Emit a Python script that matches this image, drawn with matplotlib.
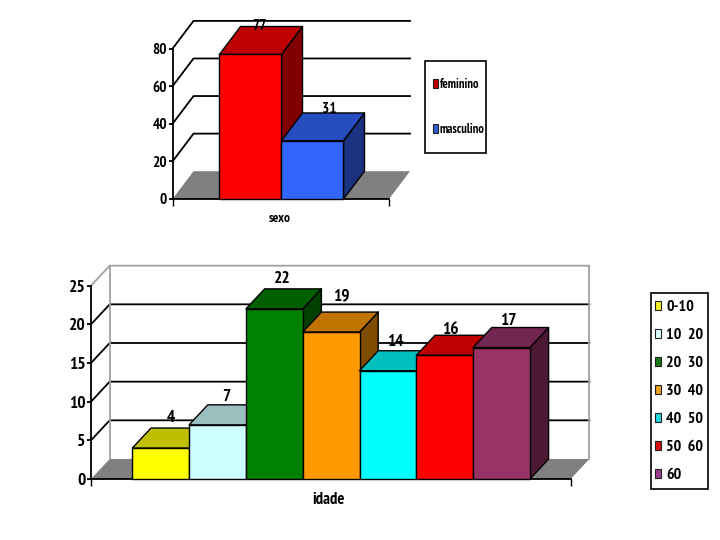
import matplotlib
matplotlib.use("Agg")
import matplotlib.pyplot as plt
from matplotlib.patches import Polygon, Patch, Rectangle

plt.rcParams['font.family'] = ['PT Sans Narrow', 'Roboto Condensed', 'Liberation Sans', 'DejaVu Sans']
plt.rcParams['font.weight'] = 'bold'

# data
sexo_labels = ['feminino', 'masculino']
sexo_values = [77, 31]
sexo_front = ['#ff0000', '#3366ff']
sexo_top = ['#bf0000', '#264cbf']
sexo_side = ['#800000', '#1a3380']
sexo_ticks = [0, 20, 40, 60, 80]
sexo_nudge = [(-2, 1), (6, 4)]

idade_labels = ['0-10', '10  20', '20  30', '30  40', '40  50', '50  60', '60']
idade_values = [4, 7, 22, 19, 14, 16, 17]
idade_front = ['#ffff00', '#ccffff', '#008000', '#ff9900', '#00ffff', '#ff0000', '#993366']
idade_top = ['#bfbf00', '#99bfbf', '#006000', '#bf7300', '#00bfbf', '#bf0000', '#732650']
idade_side = ['#808000', '#668080', '#004000', '#804c00', '#008080', '#800000', '#4d1a33']
idade_ticks = [0, 5, 10, 15, 20, 25]
idade_nudge = [(1, -2), (-1, -5), (-1, -3), (1, 3), (-2, -4), (-4, -7), (-2, -6)]

W, H = 720, 540
fig = plt.figure(figsize=(7.2, 5.4), dpi=100)


def make_axes(x0, x1, y_bottom, y_top, xlim, ylim):
    ax = fig.add_axes([x0 / W, 1 - y_bottom / H, (x1 - x0) / W, (y_bottom - y_top) / H])
    ax.set_xlim(*xlim)
    ax.set_ylim(*ylim)
    ax.patch.set_visible(False)
    for s in ('top', 'right'):
        ax.spines[s].set_visible(False)
    for s in ('left', 'bottom'):
        ax.spines[s].set_linewidth(1.3)
    return ax


def bar3d(ax, x, v, w, dx, dy, front, top, side, lw, z):
    l, r = x - w / 2, x + w / 2
    kw = dict(edgecolor='black', linewidth=lw, joinstyle='round', clip_on=False, zorder=z)
    ax.add_patch(Polygon([(r, 0), (r + dx, dy), (r + dx, v + dy), (r, v)], facecolor=side, **kw))
    ax.add_patch(Polygon([(l, v), (r, v), (r + dx, v + dy), (l + dx, v + dy)], facecolor=top, **kw))
    ax.add_patch(Polygon([(l, 0), (r, 0), (r, v), (l, v)], facecolor=front, **kw))


def chart(ax, values, ticks, front, top, side, dx, dy, wall_color, top_color, fs, lab_off, nudge):
    x0, x1 = ax.get_xlim()
    ax.add_patch(Polygon([(x0, 0), (x1, 0), (x1 + dx, dy), (x0 + dx, dy)],
                         facecolor='#808080', edgecolor='none', clip_on=False, zorder=1))
    for t in ticks[1:]:
        c = top_color if t == ticks[-1] else 'black'
        ax.plot([x0, x0 + dx, x1 + dx], [t, t + dy, t + dy], color=c, lw=1.3, clip_on=False, zorder=2)
    if wall_color:
        ax.plot([x0 + dx, x0 + dx], [dy, ticks[-1] + dy], color=wall_color, lw=1.3, clip_on=False, zorder=2)
        ax.plot([x1 + dx, x1 + dx], [dy, ticks[-1] + dy], color=wall_color, lw=1.3, clip_on=False, zorder=2)
    for i, v in enumerate(values):
        bar3d(ax, i, v, 1, dx, dy, front[i], top[i], side[i], 1.0, 3 + i)
        nx, ny = nudge[i]
        ax.annotate(str(v), (i + dx / 2, v + dy), xytext=(nx * 0.72, lab_off + ny * 0.72),
                    textcoords='offset points', ha='center', va='center', fontsize=fs,
                    color='black', annotation_clip=False, zorder=20)
    ax.set_yticks(ticks)
    ax.set_xticks([x0, x1])
    ax.set_xticklabels([])
    ax.tick_params(axis='y', length=3, width=1.3, pad=1.0, labelsize=fs)
    ax.tick_params(axis='x', length=5, width=1.0)
    ax.spines['left'].set_bounds(0, ticks[-1])


# upper chart
ax1 = make_axes(172.5, 389, 199, 48.7, (-1.258, 2.234), (0, 80))
chart(ax1, sexo_values, sexo_ticks, sexo_front, sexo_top, sexo_side, 0.339, 14.8, None, 'black', 11, 0, sexo_nudge)
fig.text(280 / W, 1 - 218 / H, 'sexo', ha='center', va='center', fontsize=9.5)

# lower chart
ax2 = make_axes(91, 570.7, 479, 285.7, (-1.227, 7.218), (0, 25))
chart(ax2, idade_values, idade_ticks, idade_front, idade_top, idade_side, 0.329, 2.59, '#a0a0a0', '#a0a0a0', 12.5, 9, idade_nudge)
fig.text(329 / W, 1 - 500 / H, 'idade', ha='center', va='center', fontsize=12)


def legend(labels, colors, box, swatch_x, fs, spacing_px, hl, hh, tp):
    x0, y0, x1, y1 = box
    fig.add_artist(Rectangle((x0 / W, 1 - y1 / H), (x1 - x0) / W, (y1 - y0) / H,
                             transform=fig.transFigure, facecolor='white',
                             edgecolor='black', linewidth=1.2))
    handles = [Patch(facecolor=c, edgecolor='#202020', linewidth=0.8) for c in colors]
    leg = fig.legend(handles, labels, loc='center left',
                     bbox_to_anchor=(swatch_x / W, 1 - (y0 + y1) / 2 / H),
                     fontsize=fs, frameon=False, borderpad=0, borderaxespad=0,
                     handlelength=hl, handleheight=hh, handletextpad=tp,
                     labelspacing=(spacing_px * 0.72 - fs) / fs, alignment='left')
    leg.set_zorder(5)
    return leg


legend(sexo_labels, ['#c00000', '#2f5fd0'], (425, 61, 486, 153), 433, 9, 45, 0.42, 0.75, 0.1)
legend(idade_labels, ['#f0f020', '#ddffff', '#1a7a1a', '#e8a020', '#20d8e0', '#d81010', '#99408a'],
       (651, 293, 708, 489), 655, 11.5, 30, 0.4, 0.5, 0.3)

fig.savefig('out.png', dpi=100)
